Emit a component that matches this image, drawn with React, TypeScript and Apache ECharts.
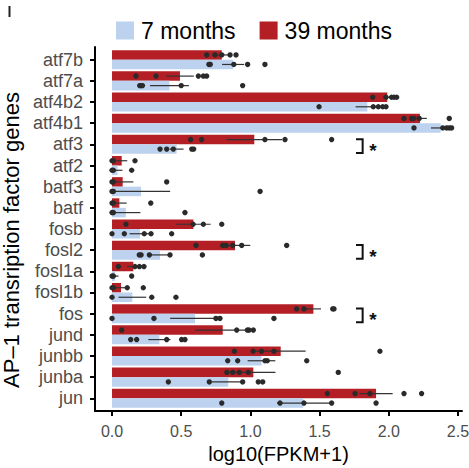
import React, { useEffect, useRef } from 'react';
import * as echarts from 'echarts';

const categories = ['atf7b', 'atf7a', 'atf4b2', 'atf4b1', 'atf3', 'atf2', 'batf3', 'batf', 'fosb', 'fosl2', 'fosl1a', 'fosl1b', 'fos', 'jund', 'junbb', 'junba', 'jun'];

const mean7 = [0.875, 0.415, 1.845, 2.375, 0.467, 0.04, 0.21, 0.10, 0.202, 0.347, 0.022, 0.147, 0.60, 0.342, 1.08, 0.84, 1.382];
const se7 = [0.08, 0.14, 0.085, 0.07, 0.05, 0.035, 0.21, 0.105, 0.075, 0.08, 0.025, 0.10, 0.18, 0.08, 0.10, 0.12, 0.19];

const mean39 = [0.793, 0.491, 1.989, 2.225, 1.028, 0.07, 0.077, 0.053, 0.588, 0.889, 0.154, 0.065, 1.455, 0.80, 1.219, 1.021, 1.908];
const se39 = [0.07, 0.10, 0.03, 0.05, 0.20, 0.04, 0.077, 0.053, 0.125, 0.11, 0.045, 0.045, 0.055, 0.20, 0.18, 0.16, 0.12];

const dots7 = [
  [0.70, 0.71, 0.88, 0.98, 1.105],
  [0.20, 0.21, 0.22, 0.50, 0.944],
  [1.496, 1.888, 1.924, 1.956, 1.98],
  [2.182, 2.39, 2.418, 2.437, 2.454],
  [0.347, 0.395, 0.443, 0.576, 0.59],
  [0.0, 0.01, 0.142],
  [0.0, 0.01, 1.07],
  [0.0, 0.01, 0.527],
  [0.0, 0.089, 0.233, 0.282, 0.431],
  [0.197, 0.21, 0.27, 0.419, 0.653],
  [0.0, 0.01, 0.142],
  [0.0, 0.287, 0.462],
  [0.0, 0.303, 0.751, 0.78, 1.17],
  [0.135, 0.178, 0.395, 0.503, 0.527],
  [0.836, 0.908, 1.105, 1.122, 1.407],
  [0.407, 0.703, 0.944, 1.057, 1.089],
  [0.793, 1.214, 1.387, 1.587, 1.908],
];

const dots39 = [
  [0.684, 0.744, 0.793, 0.853, 0.896],
  [0.173, 0.318, 0.624, 0.66, 0.684],
  [1.884, 1.98, 2.02, 2.038, 2.057],
  [2.11, 2.165, 2.18, 2.22, 2.437],
  [0.568, 0.648, 1.105, 1.25, 1.587],
  [0.0, 0.01, 0.166],
  [0.0, 0.01, 0.395],
  [0.0, 0.01, 0.28],
  [0.101, 0.586, 0.66, 0.793],
  [0.607, 0.8, 0.824, 0.872, 0.937, 1.262],
  [0.046, 0.166, 0.198, 0.231],
  [0.0, 0.01, 0.11, 0.226],
  [1.334, 1.387, 1.595, 1.604],
  [0.07, 0.901, 0.978, 0.99, 1.021],
  [0.884, 1.02, 1.08, 1.17, 1.936],
  [0.83, 0.872, 0.92, 0.985, 1.635],
  [1.556, 1.756, 1.864, 2.11, 2.237],
];

const sigGenes = ['atf3', 'fosl2', 'fos'];
const xTicks = [0, 0.5, 1, 1.5, 2, 2.5];
const yTicks = categories.map((_, i) => i);

const BLUE = '#BCD2EE';
const RED = '#B31F24';
const DOT = '#2a2a2a';
const FONT = '"Liberation Sans", Arial, Helvetica, sans-serif';
const BAR_FRAC = 0.45;
const BRACKET_X0 = 1.763;
const BRACKET_X1 = 1.811;
const STAR_X = 1.886;

function barSeries(name: string, color: string, means: number[], ses: number[], side: number) {
  return {
    type: 'custom',
    name,
    coordinateSystem: 'cartesian2d',
    itemStyle: { color },
    encode: { x: 1, y: 0 },
    z: 2,
    data: means.map((m, i) => [i, m, ses[i]]),
    renderItem: (params: any, api: any) => {
      const i = api.value(0);
      const m = api.value(1);
      const s = api.value(2);
      const unit = api.size([0, 1])[1];
      const h = unit * BAR_FRAC;
      const p0 = api.coord([0, i]);
      const p1 = api.coord([m, i]);
      const y = side < 0 ? p0[1] - h : p0[1];
      const cy = p0[1] + (side * h) / 2;
      const e0 = api.coord([m - s, i]);
      const e1 = api.coord([m + s, i]);
      return {
        type: 'group',
        children: [
          { type: 'rect', shape: { x: p0[0], y, width: p1[0] - p0[0], height: h }, style: { fill: color } },
          { type: 'line', shape: { x1: e0[0], y1: cy, x2: e1[0], y2: cy }, style: { stroke: '#333', lineWidth: 1.2 } },
        ],
      };
    },
  };
}

function dotSeries(name: string, dots: number[][], side: number) {
  return {
    type: 'custom',
    name,
    coordinateSystem: 'cartesian2d',
    encode: { x: 1, y: 0 },
    z: 3,
    data: dots.flatMap((arr, i) => arr.map((v) => [i, v])),
    renderItem: (params: any, api: any) => {
      const i = api.value(0);
      const v = api.value(1);
      const unit = api.size([0, 1])[1];
      const p = api.coord([v, i]);
      return {
        type: 'circle',
        shape: { cx: p[0], cy: p[1] + (side * unit * BAR_FRAC) / 2, r: 2.7 },
        style: { fill: DOT },
      };
    },
  };
}

export default function App() {
  const ref = useRef<HTMLDivElement>(null);
  useEffect(() => {
    document.body.style.margin = '0';
    const chart = echarts.init(ref.current!, undefined, { renderer: 'svg' });
    const option: any = {
      animation: false,
      textStyle: { fontFamily: FONT },
      legend: {
        data: ['7 months', '39 months'],
        left: 111,
        top: 14,
        icon: 'rect',
        itemWidth: 18,
        itemHeight: 18,
        itemGap: 24,
        textStyle: { fontSize: 23, color: '#000', fontFamily: FONT, padding: [0, 0, 0, 2] },
      },
      grid: { left: 95, right: 7, top: 47, bottom: 57, containLabel: false, outerBoundsMode: 'none' },
      xAxis: {
        type: 'value',
        min: -0.123,
        max: 2.529,
        splitLine: { show: false },
        axisLine: { show: true, onZero: false, lineStyle: { color: '#000', width: 2 } },
        axisTick: { show: true, customValues: xTicks, length: 5, lineStyle: { color: '#000', width: 2 } },
        axisLabel: {
          customValues: xTicks,
          formatter: (v: number) => v.toFixed(1),
          fontSize: 16,
          color: '#4d4d4d',
          margin: 12,
          fontFamily: FONT,
        },
        name: 'log10(FPKM+1)',
        nameLocation: 'middle',
        nameGap: 30,
        nameTextStyle: { fontSize: 20, color: '#000', fontFamily: FONT },
      },
      yAxis: {
        type: 'value',
        inverse: true,
        min: -0.6,
        max: 16.6,
        splitLine: { show: false },
        axisLine: { show: true, onZero: false, lineStyle: { color: '#000', width: 2 } },
        axisTick: { show: true, customValues: yTicks, length: 5, lineStyle: { color: '#000', width: 2 } },
        axisLabel: {
          customValues: yTicks,
          formatter: (v: number) => categories[Math.round(v)] ?? '',
          fontSize: 18,
          color: '#4d4d4d',
          margin: 12,
          fontFamily: FONT,
        },
        name: 'AP\u20131 transription factor genes',
        nameLocation: 'middle',
        nameGap: 51,
        nameTextStyle: { fontSize: 22, color: '#000', fontFamily: FONT, padding: [0, 22, 0, 0] },
      },
      graphic: [
        { type: 'line', shape: { x1: 9.5, y1: 6, x2: 9.5, y2: 17 }, style: { stroke: '#222', lineWidth: 2 } },
      ],
      series: [
        barSeries('39 months', RED, mean39, se39, -1),
        barSeries('7 months', BLUE, mean7, se7, 1),
        dotSeries('dots39', dots39, -1),
        dotSeries('dots7', dots7, 1),
        {
          type: 'custom',
          name: 'sig',
          coordinateSystem: 'cartesian2d',
          encode: { x: 1, y: 0 },
          z: 4,
          data: sigGenes.map((g) => [categories.indexOf(g), BRACKET_X1]),
          renderItem: (params: any, api: any) => {
            const i = api.value(0);
            const a = api.coord([BRACKET_X0, i - 0.24]);
            const b = api.coord([BRACKET_X1, i - 0.24]);
            const c = api.coord([BRACKET_X1, i + 0.41]);
            const d = api.coord([BRACKET_X0, i + 0.41]);
            const t = api.coord([STAR_X, i + 0.28]);
            return {
              type: 'group',
              children: [
                { type: 'polyline', shape: { points: [a, b, c, d] }, style: { stroke: '#111', lineWidth: 2, fill: 'none' } },
                {
                  type: 'text',
                  style: { x: t[0], y: t[1], text: '*', fontSize: 19, fontWeight: 'bold', fill: '#111', align: 'center', verticalAlign: 'middle', fontFamily: FONT },
                },
              ],
            };
          },
        },
      ],
    };
    chart.setOption(option);
    return () => chart.dispose();
  }, []);
  return <div ref={ref} style={{ width: 469, height: 468 }} />;
}
